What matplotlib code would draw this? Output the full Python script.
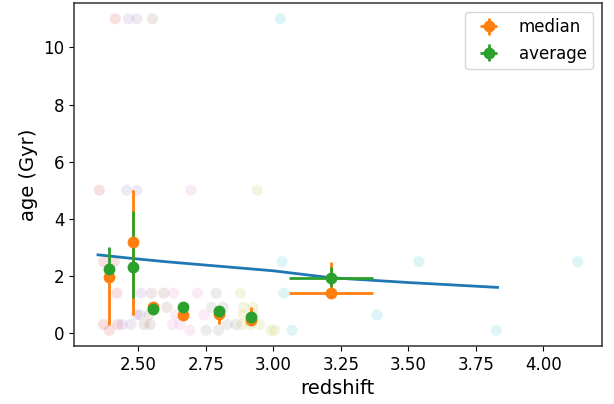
import matplotlib
matplotlib.use("Agg")
import matplotlib.pyplot as plt

# individual galaxies, one colour per redshift bin
grp_z = [
    [2.355, 2.414, 2.371, 2.410, 2.420, 2.371, 2.423, 2.392],
    [2.456, 2.494, 2.463, 2.494, 2.509, 2.506, 2.440, 2.472, 2.494],
    [2.552, 2.548, 2.593, 2.556, 2.605, 2.540, 2.521, 2.543],
    [2.694, 2.630, 2.718, 2.638, 2.743, 2.626, 2.654, 2.690],
    [2.788, 2.771, 2.813, 2.800, 2.829, 2.862, 2.751, 2.796],
    [2.940, 2.878, 2.890, 2.925, 2.888, 2.925, 2.884, 2.915, 2.949, 2.991, 3.004],
    [3.026, 3.032, 3.539, 4.127, 3.038, 3.384, 3.069, 3.826],
]
grp_age = [
    [5.0, 11.0, 2.5, 2.5, 1.4, 0.3, 0.3, 0.1],
    [5.0, 5.0, 11.0, 11.0, 1.4, 0.64, 0.3, 0.3, 0.64],
    [11.0, 1.4, 1.4, 0.9, 0.9, 0.64, 0.3, 0.3],
    [5.0, 1.4, 1.4, 0.64, 0.64, 0.3, 0.3, 0.1],
    [1.4, 0.9, 0.9, 0.64, 0.3, 0.3, 0.1, 0.1],
    [5.0, 1.4, 0.9, 0.9, 0.64, 0.64, 0.3, 0.3, 0.3, 0.1, 0.1],
    [11.0, 2.5, 2.5, 2.5, 1.4, 0.64, 0.1, 0.1],
]
grp_col = ['C3', 'C4', 'C5', 'C6', 'C7', 'C8', 'C9']

# age of the universe curve
univ_z = [2.35, 2.48, 2.60, 2.75, 3.00, 3.21, 3.50, 3.83]
univ_age = [2.74, 2.61, 2.50, 2.38, 2.18, 1.94, 1.77, 1.60]

# binned statistics
bin_z = [2.392, 2.480, 2.552, 2.665, 2.798, 2.918, 3.213]
bin_zlo = [0, 0, 0, 0, 0, 0, 0.157]
bin_zhi = [0, 0, 0, 0, 0, 0, 0.155]
med = [1.95, 3.20, 0.93, 0.64, 0.67, 0.46, 1.40]
med_lo = [1.65, 2.55, 0.05, 0.05, 0.36, 0.05, 0.0]
med_hi = [0.40, 1.80, 0.05, 0.05, 0.05, 0.44, 1.08]
avg = [2.25, 2.31, 0.85, 0.90, 0.76, 0.58, 1.92]
avg_lo = [0.15, 1.09, 0.05, 0.05, 0.05, 0.05, 0.29]
avg_hi = [0.75, 1.98, 0.05, 0.05, 0.05, 0.05, 0.41]

plt.figure(figsize=(6.14, 4.04), dpi=100)
plt.subplots_adjust(left=0.1205, right=0.98, top=0.992, bottom=0.144)

for zz, aa, cc in zip(grp_z, grp_age, grp_col):
    plt.scatter(zz, aa, color=cc, alpha=0.14, s=65, edgecolors='none')

plt.plot(univ_z, univ_age, color='C0', lw=2)
plt.errorbar(bin_z, med, yerr=[med_lo, med_hi], xerr=[bin_zlo, bin_zhi],
             fmt='o', color='C1', lw=2, ms=7.5, label='median')
plt.errorbar(bin_z, avg, yerr=[avg_lo, avg_hi], xerr=[bin_zlo, bin_zhi],
             fmt='o', color='C2', lw=2, ms=7.5, label='average')

ax = plt.gca()
for sp in ax.spines.values():
    sp.set_linewidth(1.1)
    sp.set_color('#333333')
plt.xlabel('redshift', fontsize=14)
plt.ylabel('age (Gyr)', fontsize=14)
plt.xticks(fontsize=12)
plt.yticks(fontsize=12)
plt.legend(loc='upper right', fontsize=12)
plt.savefig('out.png', dpi=100)
